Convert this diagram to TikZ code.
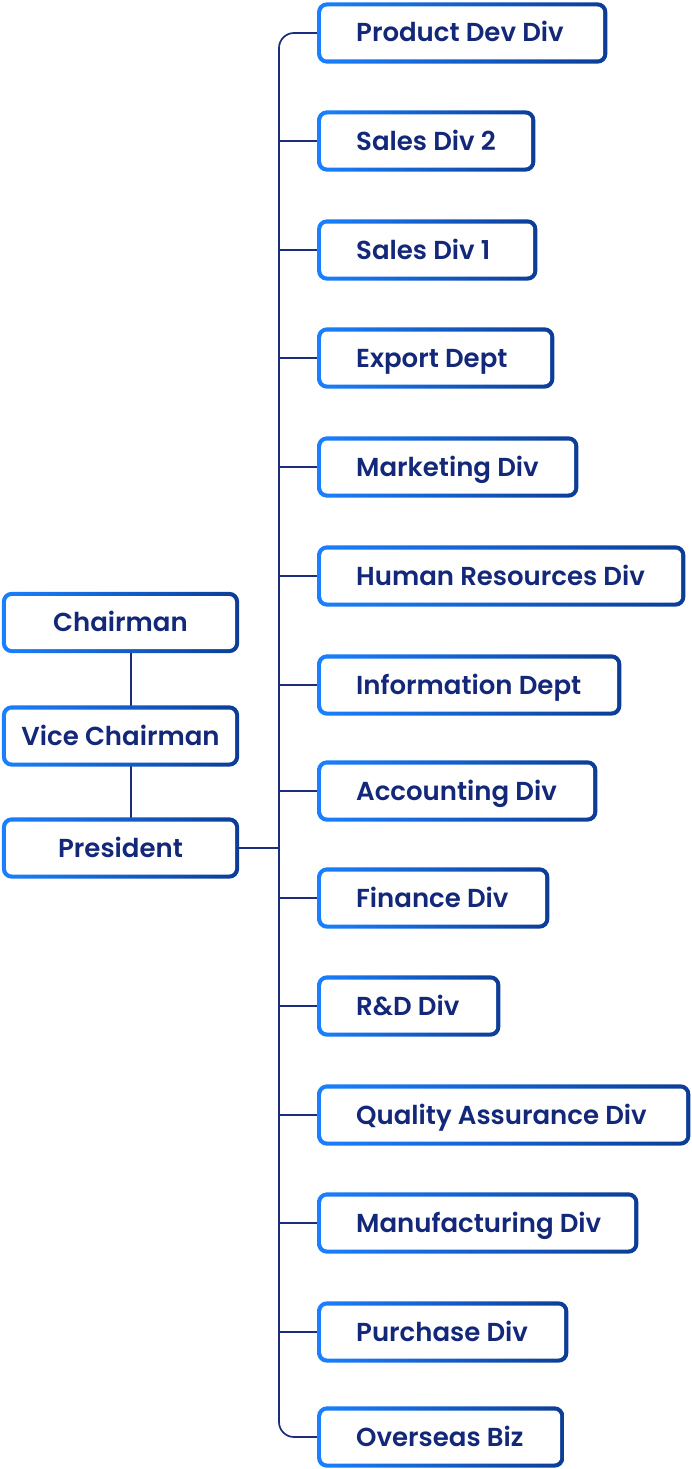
\documentclass[tikz,border=0pt]{standalone}
\usepackage{fontspec}
\setmainfont{Poppins}[BoldFont={Poppins SemiBold}]
\usetikzlibrary{backgrounds}
\definecolor{bL}{HTML}{1A80FF}
\definecolor{bR}{HTML}{0C3D96}
\definecolor{txt}{HTML}{14287A}
\definecolor{ln}{HTML}{1B2D7E}
\tikzset{
  box/.style={fill=white, rounded corners=6pt, minimum height=53pt, inner ysep=0pt, inner xsep=35pt,
    text height=18pt, text depth=0pt,
    font=\fontsize{26}{26}\selectfont\bfseries, text=txt},
  cbox/.style={box, minimum width=229pt, inner xsep=0pt},
  conn/.style={draw=ln, line width=1.7pt},
  ring/.style={left color=bL, right color=bR, rounded corners=10pt}
}
\newcommand{\rbox}[4]{%
  \pgfmathsetmacro{\tw}{#3-395}%
  \node[box, anchor=west] (#1) at (321,#2) {\makebox[\tw pt][l]{#4}};}
\begin{document}
\begin{tikzpicture}[x=1pt,y=-1pt]
\useasboundingbox (0,0) rectangle (692,1469);
\rbox{r1}{33}{607}{Product Dev Div}
\rbox{r2}{141}{535}{Sales Div 2}
\rbox{r3}{250}{537}{Sales Div 1}
\rbox{r4}{358}{554}{Export Dept}
\rbox{r5}{467}{578}{Marketing Div}
\rbox{r6}{576}{685}{Human Resources Div}
\rbox{r7}{685}{621}{Information Dept}
\rbox{r8}{791}{597}{Accounting Div}
\rbox{r9}{898}{549}{Finance Div}
\rbox{r10}{1006}{500}{R\&D Div}
\rbox{r11}{1115}{690}{Quality Assurance Div}
\rbox{r12}{1223}{638}{Manufacturing Div}
\rbox{r13}{1332}{568}{Purchase Div}
\rbox{r14}{1437}{564}{Overseas Biz}
\node[cbox] (chair) at (120.5,622.5) {Chairman};
\node[cbox] (vice) at (120.5,736) {Vice Chairman};
\node[cbox] (pres) at (120.5,848) {President};
\coordinate (vx) at (131,0);
\coordinate (tx) at (279,0);
\begin{scope}[on background layer]
  \draw[conn] (vx |- chair.south) -- (vx |- vice.north);
  \draw[conn] (vx |- vice.south) -- (vx |- pres.north);
  \draw[conn] (pres.east) -- (tx |- pres.east);
  \draw[conn, rounded corners=15pt] (r1.west) -- (tx |- r1.west) -- (tx |- r14.west) -- (r14.west);
  \foreach \n in {r2,r3,r4,r5,r6,r7,r8,r9,r10,r11,r12,r13}
    \draw[conn] (tx |- \n.west) -- (\n.west);
  \foreach \n in {r1,r2,r3,r4,r5,r6,r7,r8,r9,r10,r11,r12,r13,r14,chair,vice,pres}
    \shade[ring] ([shift={(-4pt,4pt)}]\n.north west) rectangle ([shift={(4pt,-4pt)}]\n.south east);
\end{scope}
\end{tikzpicture}
\end{document}
